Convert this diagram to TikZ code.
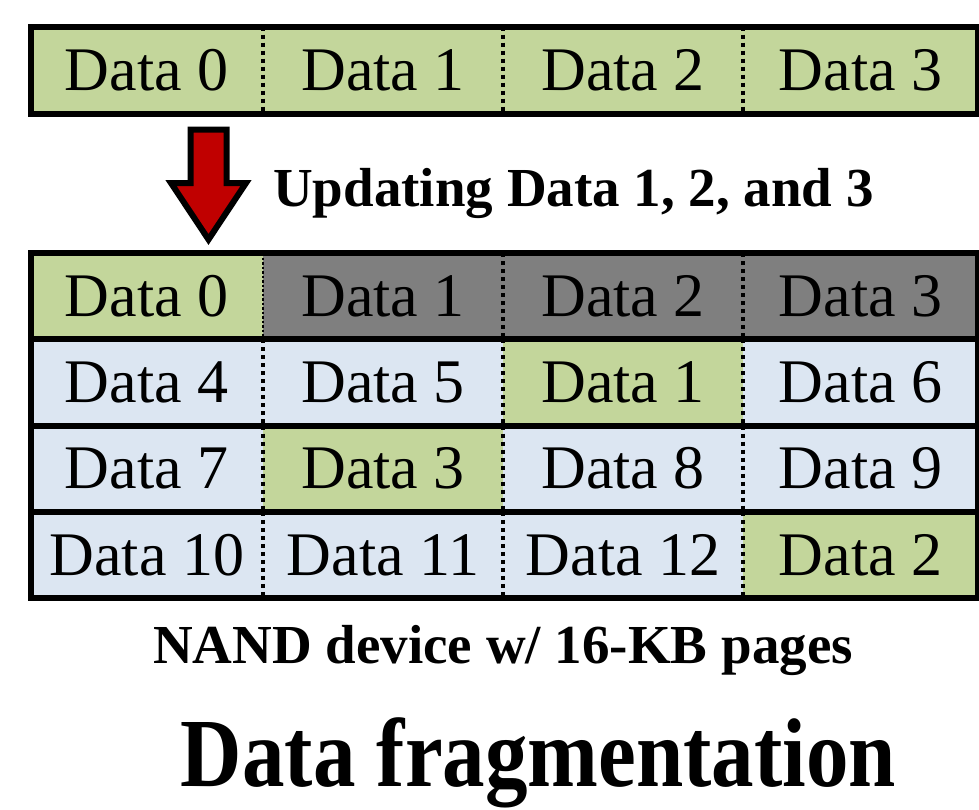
\documentclass[tikz,border=0pt]{standalone}
\usepackage{fontspec}
\setmainfont{Liberation Serif}
\definecolor{pagegreen}{HTML}{C3D69B}
\definecolor{pageblue}{HTML}{DCE6F2}
\definecolor{pagegrey}{HTML}{7F7F7F}
\definecolor{arrowred}{HTML}{C00000}
\tikzset{
  cell/.style={inner sep=0pt, outer sep=0pt, draw=none,
    font=\fontsize{62}{62}\selectfont},
  frame/.style={line width=6pt, line join=miter},
  divider/.style={line width=4pt, dash pattern=on 4pt off 4pt},
  thindivider/.style={line width=1.2pt, dash pattern=on 2.5pt off 2pt},
  blockarrow/.style={line width=6pt, line join=miter, fill=arrowred},
  remark/.style={inner sep=0pt, font=\fontsize{55}{55}\selectfont\bfseries},
  heading/.style={inner sep=0pt, font=\fontsize{85}{85}\selectfont\bfseries}
}
\begin{document}
\begin{tikzpicture}[x=1pt, y=-1pt]
  \useasboundingbox (0,0) rectangle (979,809);
  \def\colx{{146.75,383,623,860.5}}
  \def\colw{{232.5,240,240,235}}

  % the page before the update
  \foreach \lab [count=\c] in {Data 0, Data 1, Data 2, Data 3} {
    \pgfmathsetmacro\cx{\colx[\c-1]}
    \pgfmathsetmacro\cw{\colw[\c-1]}
    \node[cell, fill=pagegreen, minimum width=\cw pt, minimum height=87pt]
      (old-\c) at (\cx,70) {\lab};
  }
  \foreach \c in {1,2,3}
    \draw[divider] (old-\c.north east) -- (old-\c.south east);
  \draw[frame] (old-1.north west) rectangle (old-4.south east);

  \draw[blockarrow] (190.5,129.5) -- (226.5,129.5) -- (226.5,183) -- (246,183)
    -- (208.5,239.5) -- (171,183) -- (190.5,183) -- cycle;
  \node[remark, anchor=base west] (update) at (273,206) {Updating Data 1, 2, and 3};

  % the block after the update
  \foreach \r/\c/\lab/\col in {
      1/1/Data 0/pagegreen, 1/2/Data 1/pagegrey, 1/3/Data 2/pagegrey, 1/4/Data 3/pagegrey,
      2/1/Data 4/pageblue, 2/2/Data 5/pageblue, 2/3/Data 1/pagegreen, 2/4/Data 6/pageblue,
      3/1/Data 7/pageblue, 3/2/Data 3/pagegreen, 3/3/Data 8/pageblue, 3/4/Data 9/pageblue,
      4/1/Data 10/pageblue, 4/2/Data 11/pageblue, 4/3/Data 12/pageblue, 4/4/Data 2/pagegreen} {
    \pgfmathsetmacro\cx{\colx[\c-1]}
    \pgfmathsetmacro\cw{\colw[\c-1]}
    \pgfmathsetmacro\cy{253+86.25*(\r-0.5)}
    \node[cell, fill=\col, minimum width=\cw pt, minimum height=86.25pt]
      (new-\r-\c) at (\cx,\cy) {\lab};
  }
  \draw[thindivider] (new-1-1.north east) -- (new-1-1.south east);
  \foreach \c in {2,3}
    \draw[divider] (new-1-\c.north east) -- (new-1-\c.south east);
  \foreach \r in {2,3,4}
    \foreach \c in {1,2,3}
      \draw[divider] (new-\r-\c.north east) -- (new-\r-\c.south east);
  \foreach \r in {1,2,3}
    \draw[frame] (new-\r-1.south west) -- (new-\r-4.south east);
  \draw[frame] (new-1-1.north west) rectangle (new-4-4.south east);

  \node[remark, anchor=base] (device) at (503,663) {NAND device w/ 16-KB pages};
  \node[heading, anchor=base] (caption) at (538.5,786)
    {\scalebox{1}[1.15]{Data fragmentation}};
\end{tikzpicture}
\end{document}
